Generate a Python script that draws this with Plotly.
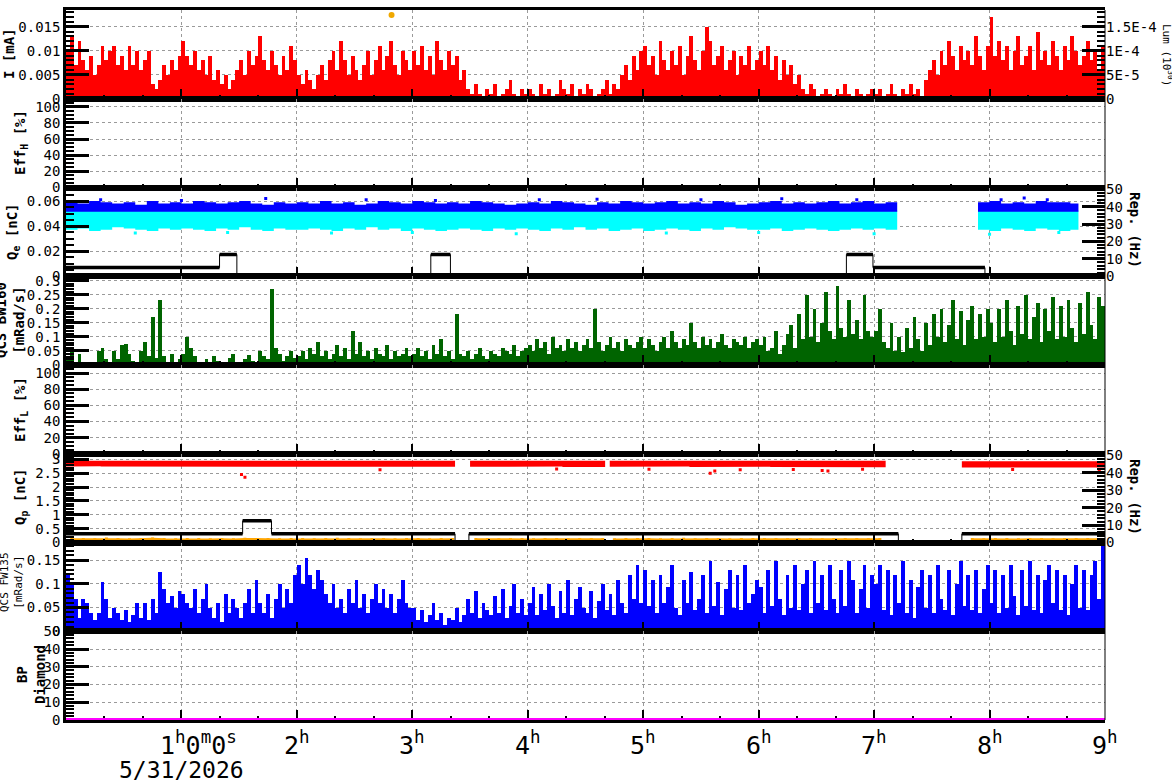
import plotly.graph_objects as go

FONT = "DejaVu Sans Mono"
GRID = "#9a9a9a"
HOURS = 9.0
BIN_H = 2 / 60      # bar panels: 2-minute bins
EDGE_BIN_H = 0.1    # scatter-band panels: 6-minute bins

# ---------------- data ----------------
# Beam current I, in uA (converted to mA), 2-minute bins, 0h..9h
I_uA = [
    10,13,7,12,8,6,9,5,7,11,8,10,11,7,9,6,11,7,10,6,8,10,3,2,4,7,5,8,6,9,
    12,9,7,10,6,8,5,9,4,6,3,5,2,4,6,8,5,10,7,9,13,8,6,10,7,5,9,6,11,8,
    5,3,6,4,2,5,7,4,8,10,6,12,8,5,9,6,4,7,10,5,8,11,6,9,12,7,5,10,8,6,
    10,7,11,6,9,5,12,8,6,10,7,9,4,6,2,1,3,1,0,2,1,3,0,1,2,4,1,0,2,1,
    2,1,0,3,1,2,0,1,4,2,1,3,0,2,1,3,2,0,1,2,4,1,3,2,5,7,4,9,6,10,
    11,7,9,5,12,8,6,10,7,11,5,9,13,8,6,10,15,12,7,9,11,6,8,10,5,9,7,11,6,8,
    10,7,11,6,9,4,8,5,7,3,5,2,1,3,2,0,1,2,1,0,2,1,3,1,0,2,1,0,1,2,
    1,2,0,1,3,1,0,2,1,3,1,2,0,4,6,8,5,10,7,12,9,6,11,8,10,7,13,9,6,11,
    17,9,12,8,11,6,10,13,7,9,11,6,14,8,10,7,12,9,6,11,8,13,10,7,9,12,8,10,6,11,
]
# Luminosity point (right axis of top panel)
LUM_T = [2.82]
LUM_V = [1.745e-4]

# QCS BW160 in 1e-3 mRad/s, 2-minute bins
BW160 = [
    30,55,5,40,0,2,0,10,50,60,20,10,50,20,70,75,40,15,10,50,80,30,170,25,230,30,5,40,10,20,
    40,100,60,30,10,5,20,8,30,15,5,10,25,40,10,5,20,35,15,10,50,30,20,270,60,40,15,30,50,25,
    30,50,20,60,40,80,30,50,20,40,70,30,60,20,120,40,80,30,50,20,60,40,30,70,20,50,30,40,60,30,
    40,60,30,50,20,70,40,90,30,50,20,180,40,30,50,20,40,60,30,20,50,40,30,60,50,40,70,30,50,60,
    70,50,90,60,80,40,100,60,70,50,90,60,80,50,70,90,60,200,80,50,70,100,60,80,50,90,70,60,80,100,
    60,90,70,50,80,100,60,120,80,60,90,70,150,80,60,100,70,90,60,80,110,70,60,90,80,70,100,60,80,90,
    70,100,50,60,120,40,70,110,140,60,180,90,250,100,200,80,150,260,120,90,280,130,100,230,110,160,90,250,120,100,
    120,200,80,60,150,50,100,45,130,60,170,90,50,150,70,180,100,200,80,140,230,90,190,70,160,210,90,180,100,200,
    150,80,200,100,230,120,70,210,110,250,90,170,220,80,200,120,240,90,210,100,230,130,80,220,110,260,140,90,240,210,
]

# QCS FW135 in 1e-3 mRad/s, 2-minute bins
FW135 = [
    120,100,70,30,70,60,40,25,40,105,70,30,50,40,25,45,20,35,60,30,60,25,70,40,125,90,60,75,50,85,
    80,60,50,90,40,70,100,50,30,60,20,80,40,70,50,30,60,90,40,110,60,40,80,30,70,100,50,90,60,120,
    140,100,155,120,90,130,110,80,60,100,50,70,40,90,60,110,50,80,40,70,100,60,90,50,80,40,70,110,60,50,
    50,25,45,20,35,60,25,40,15,30,25,50,20,35,70,40,85,30,60,45,35,75,40,90,30,55,100,40,70,35,
    60,95,35,80,45,100,55,30,85,40,110,35,70,95,50,40,85,30,65,100,45,80,35,110,60,40,120,70,140,60,
    130,55,110,40,120,60,95,140,50,35,110,60,125,45,70,120,40,150,55,105,35,90,130,50,120,45,140,60,80,110,
    95,40,130,55,150,70,35,120,50,140,45,100,130,40,150,60,120,45,140,70,40,130,55,150,110,40,90,140,50,120,
    100,140,45,130,35,120,60,150,40,110,30,95,130,50,120,40,140,70,45,130,35,100,150,55,120,45,130,40,90,140,
    60,130,40,120,50,140,75,35,130,55,150,45,120,40,110,140,60,130,45,120,35,100,140,50,130,45,120,150,70,180,
]

# Q_e charge cloud (pC), 6-minute bins: upper edge of blue, lower edge of cyan
QE_SEGMENTS = [(0.0, 7.21), (7.90, 8.77)]
QE_BLUE_HI = [
    59,58,60,59,58,59,57,60,58,59,
    58,60,59,58,59,60,58,57,59,58,
    59,58,60,58,59,57,58,60,59,58,
    60,59,58,59,58,60,59,58,57,58,
    59,58,60,59,58,57,59,58,60,59,
    58,59,60,58,59,58,60,59,57,58,
    59,60,58,59,58,59,60,58,59,60,
    58,59,None,None,None,None,None,None,None,59,
    60,58,59,58,60,59,59,58,None,None,
]
QE_CYAN_LO = [
    37,38,36,37,39,38,37,36,38,37,
    38,37,36,38,37,39,37,36,38,37,
    37,38,37,36,38,37,39,37,38,36,
    38,37,36,37,38,37,36,38,37,38,
    37,36,38,37,39,37,38,36,37,38,
    36,37,38,37,36,38,37,39,38,37,
    37,38,36,37,38,37,36,37,38,37,
    38,37,None,None,None,None,None,None,None,37,
    36,38,37,36,38,37,36,37,None,None,
]
QE_BLUE_BOTTOM = 51.5   # pC
QE_CYAN_TOP = 52.5      # pC
QE_BLUE_OUT_T = [0.3, 1.0, 1.73, 2.6, 3.2, 4.1, 4.6, 5.5, 6.2, 6.85, 8.1, 8.3, 8.5]
QE_BLUE_OUT_V = [61.0, 60.5, 62.0, 61.0, 60.5, 61.0, 61.5, 61.0, 61.8, 61.0, 61.0, 62.5, 61.0]
QE_CYAN_OUT_T = [0.6, 1.4, 2.3, 3.0, 3.9, 5.2, 6.0, 7.0, 8.0, 8.6]
QE_CYAN_OUT_V = [34.5, 35.0, 34.5, 35.0, 34.0, 34.5, 35.0, 34.0, 33.5, 35.0]

# Repetition rate (Hz) for e- and p- panels: change points
REP_E_T = [0.0, 1.33, 1.48, 3.16, 3.33, 6.76, 6.99, 7.96]
REP_E_V = [5, 12.5, 0, 12.5, 0, 12.5, 5, 0]
REP_P_T = [0.0, 1.53, 1.78, 3.37, 3.49, 7.21, 7.76]
REP_P_V = [5, 12.5, 5, 0, 5, 0, 5]

# Q_p charge band (0.01 nC), 6-minute bins
QP_SEGMENTS = [(0.0, 3.37), (3.50, 4.67), (4.71, 7.21), (7.76, 9.0)]
QP_HI = [
    295,294,296,295,294,295,296,294,295,295,
    294,295,296,295,294,295,295,296,294,295,
    295,294,295,296,294,295,294,296,295,294,
    295,296,294,295,None,295,294,295,296,295,
    294,295,296,295,294,295,295,295,294,295,
    295,294,296,295,294,295,294,295,296,295,
    294,295,295,294,296,295,294,295,294,295,
    295,None,None,None,None,None,None,293,294,293,
    294,293,295,294,293,294,295,293,294,293,
]
QP_LO = [
    274,273,275,274,273,274,272,274,273,274,
    273,274,272,274,273,274,273,272,274,273,
    274,273,272,274,273,274,272,273,274,272,
    273,274,272,273,None,273,274,272,273,274,
    272,273,274,272,273,271,272,273,272,273,
    274,272,273,274,272,273,271,272,273,272,
    273,272,271,272,270,271,272,270,271,272,
    271,None,None,None,None,None,None,270,271,270,
    271,270,272,271,270,271,272,270,271,270,
]
QP_OUT_T = [1.52, 1.55, 2.72, 4.25, 5.05, 5.58, 5.62, 5.84, 6.3, 6.55, 6.6, 6.9, 8.2, 8.95]
QP_OUT_V = [2.45, 2.35, 2.62, 2.65, 2.64, 2.5, 2.58, 2.62, 2.63, 2.6, 2.58, 2.64, 2.63, 2.6]
# orange (low-charge) series, pC, 6-minute bins
QP_ORANGE = [
    105,110,100,125,105,102,108,130,105,100,
    110,105,102,108,100,120,105,110,102,105,
    108,100,105,118,105,102,108,105,100,110,
    105,102,108,105,None,110,105,100,108,105,
    102,110,105,100,108,105,105,102,110,105,
    108,100,105,120,102,105,110,102,105,108,
    105,110,102,105,108,100,105,110,105,102,
    105,None,None,None,None,None,None,105,108,102,
    105,110,102,105,108,102,105,110,105,108,
]

BP_T = [0.0, 9.0]
BP_V = [0.0, 0.0]

X_TICK_HOURS = [2, 3, 4, 5, 6, 7, 8, 9]

# ---------------- geometry ----------------
W, H = 1172, 782
L, R, T, B = 66, 67, 10, 62
PW, PH = W - L - R, H - T - B


def px2x(px):
    return (px - L) / PW


def py2y(py):
    return (H - B - py) / PH


def xname(k):
    return "x" if k == 0 else f"x{k+1}"


def yname(k):
    return "y" if k == 0 else f"y{k+1}"


def band_polys(lo, hi, segments, bin_h):
    ref = lo if isinstance(lo, list) else hi
    polys = []
    for (s, e) in segments:
        xt, yt, xb, yb = [], [], [], []
        for i in range(len(ref)):
            if ref[i] is None:
                continue
            l = lo[i] if isinstance(lo, list) else lo
            h = hi[i] if isinstance(hi, list) else hi
            if l is None or h is None:
                continue
            a, b = max(i * bin_h, s), min((i + 1) * bin_h, e)
            if b <= a:
                continue
            xt += [a, b]; yt += [h, h]
            xb += [a, b]; yb += [l, l]
        if xt:
            polys.append((xt + xb[::-1], yt + yb[::-1]))
    return polys


def series_segments(vals, segments, bin_h, scale):
    out = []
    for (s, e) in segments:
        xs, ys = [], []
        for i, v in enumerate(vals):
            if v is None:
                continue
            c = (i + 0.5) * bin_h
            if s <= c <= e:
                xs.append(c); ys.append(v * scale)
        out.append((xs, ys))
    return out


def step_lines(times, vals, end):
    xs_all, ys_all, xs_h, ys_h = [], [], [], []
    for i, (t, v) in enumerate(zip(times, vals)):
        t2 = times[i + 1] if i + 1 < len(times) else end
        xs_all += [t, t2]; ys_all += [v, v]
        xs_h += [t, t2, None]; ys_h += [v, v, None]
    return xs_all, ys_all, xs_h, ys_h


fig = go.Figure()

# Panel 1: current
fig.add_trace(go.Bar(x=[(i + 0.5) * BIN_H for i in range(len(I_uA))], y=[v / 1000 for v in I_uA],
                     width=BIN_H, marker=dict(color="#ff0000", line=dict(width=0)),
                     xaxis="x", yaxis="y"))
fig.add_trace(go.Scatter(x=LUM_T, y=LUM_V, mode="markers", marker=dict(color="#f0a800", size=6),
                         xaxis="x", yaxis="y9"))

# Panels 2 and 5: efficiencies (no data in this period) - keep axes visible
for k in (1, 4):
    fig.add_trace(go.Scatter(x=[None], y=[None], mode="markers", xaxis=xname(k), yaxis=yname(k)))

# Panel 3: Qe
for xs, ys in band_polys(QE_CYAN_LO, QE_CYAN_TOP, QE_SEGMENTS, EDGE_BIN_H):
    fig.add_trace(go.Scatter(x=xs, y=[v / 1000 for v in ys], fill="toself", fillcolor="#00ffff",
                             mode="lines", line=dict(width=0), xaxis="x3", yaxis="y3"))
for xs, ys in band_polys(QE_BLUE_BOTTOM, QE_BLUE_HI, QE_SEGMENTS, EDGE_BIN_H):
    fig.add_trace(go.Scatter(x=xs, y=[v / 1000 for v in ys], fill="toself", fillcolor="#0000ff",
                             mode="lines", line=dict(width=0), xaxis="x3", yaxis="y3"))
fig.add_trace(go.Scatter(x=QE_BLUE_OUT_T, y=[v / 1000 for v in QE_BLUE_OUT_V], mode="markers",
                         marker=dict(symbol="square", size=3, color="#0000ff"), xaxis="x3", yaxis="y3"))
fig.add_trace(go.Scatter(x=QE_CYAN_OUT_T, y=[v / 1000 for v in QE_CYAN_OUT_V], mode="markers",
                         marker=dict(symbol="square", size=3, color="#00ffff"), xaxis="x3", yaxis="y3"))
xa, ya, xh, yh = step_lines(REP_E_T, REP_E_V, HOURS)
fig.add_trace(go.Scatter(x=xa, y=ya, mode="lines", line=dict(color="black", width=1), xaxis="x3", yaxis="y10"))
fig.add_trace(go.Scatter(x=xh, y=yh, mode="lines", line=dict(color="black", width=3.5), xaxis="x3", yaxis="y10"))

# Panel 4: BW160
fig.add_trace(go.Bar(x=[(i + 0.5) * BIN_H for i in range(len(BW160))], y=[v / 1000 for v in BW160],
                     width=BIN_H, marker=dict(color="#006400", line=dict(width=0)),
                     xaxis="x4", yaxis="y4"))

# Panel 6: Qp
for xs, ys in band_polys(QP_LO, QP_HI, QP_SEGMENTS, EDGE_BIN_H):
    fig.add_trace(go.Scatter(x=xs, y=[v / 100 for v in ys], fill="toself", fillcolor="#ff0000",
                             mode="lines", line=dict(width=0), xaxis="x6", yaxis="y6"))
fig.add_trace(go.Scatter(x=QP_OUT_T, y=QP_OUT_V, mode="markers",
                         marker=dict(symbol="square", size=3, color="#ff0000"), xaxis="x6", yaxis="y6"))
for xs, ys in series_segments(QP_ORANGE, QP_SEGMENTS, EDGE_BIN_H, 1 / 1000):
    fig.add_trace(go.Scatter(x=xs, y=ys, mode="lines+markers", line=dict(color="#ffa500", width=2.5),
                             marker=dict(color="#ffa500", size=3, symbol="square"), xaxis="x6", yaxis="y6"))
xa, ya, xh, yh = step_lines(REP_P_T, REP_P_V, HOURS)
fig.add_trace(go.Scatter(x=xa, y=ya, mode="lines", line=dict(color="black", width=1), xaxis="x6", yaxis="y11"))
fig.add_trace(go.Scatter(x=xh, y=yh, mode="lines", line=dict(color="black", width=3.5), xaxis="x6", yaxis="y11"))

# Panel 7: FW135
fig.add_trace(go.Bar(x=[(i + 0.5) * BIN_H for i in range(len(FW135))], y=[v / 1000 for v in FW135],
                     width=BIN_H, marker=dict(color="#0000ff", line=dict(width=0)),
                     xaxis="x7", yaxis="y7"))

# Panel 8: BP diamond
fig.add_trace(go.Scatter(x=BP_T, y=BP_V, mode="lines", line=dict(color="#ff00ff", width=4),
                         xaxis="x8", yaxis="y8", cliponaxis=False))

# ---------------- axes ----------------
tickfont = dict(family=FONT, size=14, color="black")
layout = dict(
    width=W, height=H, margin=dict(l=L, r=R, t=T, b=B, pad=0, autoexpand=False),
    paper_bgcolor="white", plot_bgcolor="white", showlegend=False, bargap=0,
    font=dict(family=FONT, color="black"),
)

for k in range(8):
    layout["xaxis" if k == 0 else f"xaxis{k+1}"] = dict(
        domain=[0, 1], anchor=yname(k), range=[0, HOURS], automargin=False,
        matches=None if k == 0 else "x",
        showline=True, linecolor="black", linewidth=2.5, mirror=True,
        layer="below traces" if k == 7 else "above traces",
        tickmode="linear", tick0=0, dtick=1, ticks="inside", ticklen=10, tickwidth=2, tickcolor="black",
        showticklabels=False, showgrid=True, gridcolor=GRID, griddash="3px,3px", gridwidth=1,
        zeroline=False,
        minor=dict(ticks="inside", ticklen=4, tickwidth=1.5, tickcolor="black", tick0=0, dtick=1 / 3,
                   showgrid=False),
    )

Y_SPECS = [
    ([0, 0.0185], 0.005, 0.001),
    ([0, 110], 20, 5),
    ([0, 0.0708], 0.02, 0.005),
    ([0, 0.316], 0.05, 0.01),
    ([0, 110], 20, 5),
    ([0, 3.2], 0.5, 0.1),
    ([0, 0.187], 0.05, 0.01),
    ([0, 50], 10, 2),
]
for k, (rng, dt, mdt) in enumerate(Y_SPECS):
    layout["yaxis" if k == 0 else f"yaxis{k+1}"] = dict(
        domain=[1 - (k + 1) / 8, 1 - k / 8], anchor=xname(k), range=rng, automargin=False,
        showline=True, linecolor="black", linewidth=2.5, mirror=False,
        tickmode="linear", tick0=0, dtick=dt, ticks="inside", ticklen=23, tickwidth=2.5, tickcolor="black",
        tickfont=tickfont, showgrid=True, gridcolor=GRID, griddash="3px,3px", gridwidth=1, zeroline=False,
        minor=dict(ticks="inside", ticklen=8, tickwidth=1.5, tickcolor="black", tick0=0, dtick=mdt,
                   showgrid=False),
    )

right_common = dict(side="right", showline=False, showgrid=False, zeroline=False, ticks="inside",
                    ticklen=23, tickwidth=2.5, tickcolor="black", tickfont=tickfont, automargin=False)
layout["yaxis9"] = dict(overlaying="y", anchor="x", range=[0, 1.85e-4],
                        tickmode="array", tickvals=[0, 5e-5, 1e-4, 1.5e-4],
                        ticktext=["0", "5E-5", "1E-4", "1.5E-4"],
                        minor=dict(ticks="inside", ticklen=8, tickwidth=1.5, tickcolor="black",
                                   tick0=0, dtick=1e-5),
                        **right_common)
for name, over, anc in (("yaxis10", "y3", "x3"), ("yaxis11", "y6", "x6")):
    layout[name] = dict(overlaying=over, anchor=anc, range=[0, 51], tickmode="linear", tick0=0, dtick=10,
                        minor=dict(ticks="inside", ticklen=8, tickwidth=1.5, tickcolor="black",
                                   tick0=0, dtick=2),
                        **right_common)

fig.update_layout(**layout)

# thin right frame edge
fig.add_shape(type="line", xref="paper", yref="paper", x0=1, x1=1, y0=0, y1=1,
              line=dict(color="black", width=1))

# ---------------- titles / labels ----------------
def ann(text, px, py, size=14, bold=True, angle=-90, xanchor="center", yanchor="middle"):
    fig.add_annotation(text=text, x=px2x(px), y=py2y(py), xref="paper", yref="paper",
                       showarrow=False, textangle=angle, xanchor=xanchor, yanchor=yanchor,
                       font=dict(family=FONT, size=size, color="black", weight="bold" if bold else "normal"))


ann("I [mA]", 9, 54)
ann("Eff<sub>H</sub> [%]", 21, 143)
ann("Q<sub>e</sub> [nC]", 13, 232)
ann("QCS BW160<br>[mRad/s]", 10, 320)
ann("Eff<sub>L</sub> [%]", 21, 410)
ann("Q<sub>p</sub> [nC]", 21, 497)
ann("QCS FW135<br>[mRad/s]", 11, 582, size=11, bold=False)
ann("BP<br>Diamond", 31, 675)
ann("Rep. (Hz)", 1135, 230, angle=90)
ann("Rep. (Hz)", 1135, 497, angle=90)
ann("Lum (10<sup>30</sup>)", 1168, 55, size=11, bold=False, angle=90)

ann("1<sup>h</sup>0<sup>m</sup>0<sup>s</sup>", 198, 743, size=25, bold=False, angle=0)
ann("5/31/2026", 181, 770, size=23, bold=False, angle=0)
for h in X_TICK_HOURS:
    ann(f"{h}<sup>h</sup>", L + h * PW / HOURS, 743, size=25, bold=False, angle=0)

fig.write_html("out.html")
